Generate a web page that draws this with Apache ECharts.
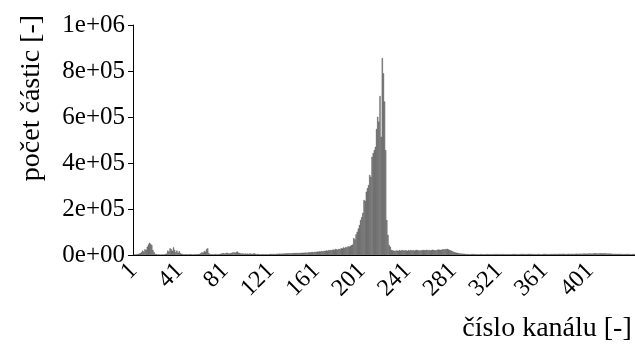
<!DOCTYPE html>
<html>
<head>
<meta charset="utf-8">
<script src="https://cdn.jsdelivr.net/npm/echarts@6/dist/echarts.min.js"></script>
<style>html,body{margin:0;padding:0;background:#fff}#c{width:635px;height:347px}</style>
</head>
<body>
<div id="c"></div>
<script>
// Channel counts, channels 1..440
const seg1 = [2000,3000,2500,4000,5000,6000,8000,12000,19000,15000,25000,22000,36000,45000,53000,48000,43000,22000,12000,5000];
const seg2 = [3000,2000,3000,2500,2000,3000,2000,2500,4000,6000,19000,15000,29000,25000,18000,33000,22000,12000,19000,10000,17000,8000,5000,4000,3000];
const seg3 = [3000,4000,3000,2500,3000,4000,3000,2500,3000,4000,3000,3500,4000,5000,8000,12000,10000,17000,14000,25000,29000,8000,4000,3000,3000];
const seg4 = [2500,3000,4000,3000,3500,4000,5000,6000,7000,8000,6000,9000,10000,7000,6000,8000,9000,11000,12000,9000,13000,15000,10000,8000,7000,6000,7000,5000,6000,5000];
const seg5 = [6000,5000,7000,6000,5000,6000,7000,5000,4000,5000,4000,3000,3000,4000,3000,3500,4000,3000,3500,4000,4000,4500,4000,5000,4500,5000,5500,5000,6000,5500];
const seg6 = [6000,6500,6000,7000,6500,7000,7500,7000,8000,7500,8000,8500,8000,9000,8500,9000,9500,9000,10000,9500,10000,11000,10000,11000,12000,11000,12000,13000,12000,14000];
const seg7 = [13000,15000,14000,16000,15000,17000,16000,18000,17000,20000,18000,21000,20000,22000,21000,24000,22000,26000,25000,23000,27000,25000,30000,28000,33000,30000,35000,33000,38000,36000];
const peak = [39000,43000,45000,74000,68000,90000,101000,115000,130000,152000,165000,183000,239000,235000,275000,290000,304000,348000,340000,427000,443000,456000,470000,548000,601000,580000,691000,514000,856000,790000,667000,456000,152000,87000,43000,36000,22000,20000,19000,18000];
const seg8 = [19000,20000,18000,21000,19000,20000,22000,19000,21000,20000,18000,21000,19000,22000,20000,21000,19000,20000,22000,21000,20000,19000,21000,20000,22000,21000,20000,23000,21000,22000,20000,21000,23000,22000,21000,20000,22000,24000,23000,22000];
const seg9 = [23000,25000,24000,26000,25000,27000,24000,22000,20000,18000,15000,13000,11000,10000,9000,8000,7000,6500,6000,5500];
const seg10 = [5000,4500,4000,4500,4000,3500,4000,4500,4000,3500,4000,3500,3000,3500,4000,3500,4000,3000,3500,4000,4000,3500,3000,3500,4000,3500,4000,4500,4000,3500,4000,3500,4000,4500,4000,3500,3000,3500,4000,3500,4000,3500,4000,4500,4000,4500,4000,3500,4000,4500,4000,4500,5000,4500,4000,4500,5000,4500,5000,4500];
const seg10b = [4000,4500,4000,3500,4000,4500,4000,3500,4000,4500,5000,4500,4000,4500,4000,4500,5000,4500,4000,4500,5000,4500,5000,5500,5000,4500,5000,5500,5000,4500];
const seg11 = [5000,5500,5000,4500,5000,5500,5000,5500,6000,5500,5000,5500,6000,5500,6000,6500,6000,5500,6000,6500,7000,6500,6000,6500,7000,7500,7000,6500,7000,7500,7000,6500,7000,7500,7000,6500,6000,6500,6000,5500];
const seg12 = [5500,5000,5500,5000,4500,5000,4500,5000,4500,4000,4500,4000,4500,4000,4500,4000,3500,4000,4500,4000];
const counts = [].concat(seg1,seg2,seg3,seg4,seg5,seg6,seg7,peak,seg8,seg9,seg10,seg10b,seg11,seg12);
const channels = counts.map((_, i) => String(i + 1));
const yTickLabels = ['0e+00','2e+05','4e+05','6e+05','8e+05','1e+06'];
const xTitle = 'číslo kanálu [-]';
const yTitle = 'počet částic [-]';

const FONT = 'Liberation Serif';
const chart = echarts.init(document.getElementById('c'), null, {renderer: 'canvas'});
chart.setOption({
  animation: false,
  backgroundColor: '#fff',
  grid: {left: 133, right: 0, top: 25, bottom: 92},
  xAxis: {
    type: 'category',
    data: channels,
    boundaryGap: true,
    axisLine: {show: true, lineStyle: {color: '#000', width: 1}},
    axisTick: {show: false},
    axisLabel: {interval: 39, rotate: 45, margin: 12, color: '#000', fontFamily: FONT, fontSize: 24}
  },
  yAxis: {
    type: 'value',
    min: 0, max: 1000000, interval: 200000,
    axisLine: {show: true, lineStyle: {color: '#000', width: 1}},
    axisTick: {show: true, length: 5, lineStyle: {color: '#000'}},
    splitLine: {show: false},
    axisLabel: {margin: 8, color: '#000', fontFamily: FONT, fontSize: 25,
      formatter: v => yTickLabels[Math.round(v / 200000)]}
  },
  series: [{
    type: 'bar',
    data: counts,
    large: false,
    barCategoryGap: '0%',
    itemStyle: {color: '#9a9a9a', borderColor: '#333', borderWidth: 0.4}
  }],
  graphic: [
    {type: 'text', x: 32, y: 98, rotation: Math.PI / 2,
     style: {text: yTitle, fontFamily: FONT, fontSize: 28, fill: '#000', align: 'center', verticalAlign: 'middle'}},
    {type: 'text', x: 547, y: 329,
     style: {text: xTitle, fontFamily: FONT, fontSize: 28, fill: '#000', align: 'center', verticalAlign: 'middle'}}
  ]
});
</script>
</body>
</html>
